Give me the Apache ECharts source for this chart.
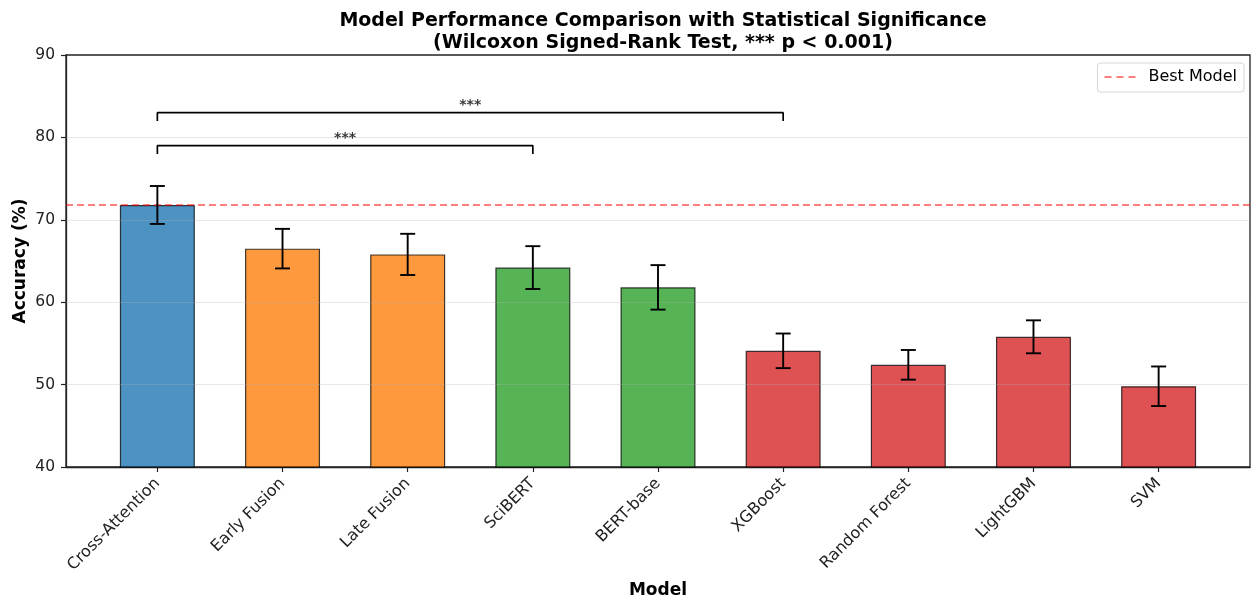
<!DOCTYPE html>
<html>
<head>
<meta charset="utf-8">
<title>Model Performance Comparison</title>
<script src="https://cdn.jsdelivr.net/npm/echarts@6/dist/echarts.min.js"></script>
<style>
  html, body { margin: 0; padding: 0; background: #fff; }
  #chart { width: 1252px; height: 599px; }
</style>
</head>
<body>
<div id="chart"></div>
<script>
// Models, in plotting order
const categories = ['Cross-Attention', 'Early Fusion', 'Late Fusion', 'SciBERT', 'BERT-base',
                    'XGBoost', 'Random Forest', 'LightGBM', 'SVM'];
// Mean accuracy (%) and standard deviation per model
const accuracy = [71.8, 66.5, 65.8, 64.2, 61.8, 54.1, 52.4, 55.8, 49.8];
const stdDev   = [2.3, 2.4, 2.5, 2.6, 2.7, 2.1, 1.8, 2.0, 2.4];
// Model family per bar: 0 = proposed, 1 = fusion, 2 = transformer, 3 = classical ML
const family   = [0, 1, 1, 2, 2, 3, 3, 3, 3];
const familyColors = ['rgba(31,119,180,0.8)', 'rgba(255,127,14,0.8)',
                      'rgba(44,160,44,0.8)', 'rgba(214,39,40,0.8)'];
// Significance brackets: [from index, to index, base height, label]
const brackets = [[0, 3, 78, '***'], [0, 5, 82, '***']];
const bracketRise = 1;
// Y axis ticks
const yTicks = [40, 50, 60, 70, 80, 90];

const bestValue = Math.max(...accuracy);
const xMin = -0.73, xMax = categories.length - 1 + 0.73;
const idx = categories.map((_, i) => i);
const FONT = 'DejaVu Sans';

const series = [];

// Bars
series.push({
  type: 'bar',
  barWidth: 75,
  z: 2,
  data: accuracy.map((v, i) => ({
    value: [i, v],
    itemStyle: { color: familyColors[family[i]] }
  })),
  itemStyle: { borderColor: 'rgba(0,0,0,0.75)', borderWidth: 1.2 },
  silent: true
});

// Horizontal grid lines drawn over the bars
series.push({
  type: 'line',
  data: [],
  z: 3,
  silent: true,
  markLine: {
    silent: true,
    symbol: 'none',
    label: { show: false },
    lineStyle: { color: 'rgba(176,176,176,0.3)', type: 'solid', width: 1 },
    data: yTicks.slice(1, -1).map(t => ({ yAxis: t }))
  }
});

// Error bars
series.push({
  type: 'custom',
  z: 5,
  silent: true,
  data: accuracy.map((v, i) => [i, v, stdDev[i]]),
  renderItem: function (params, api) {
    const x = api.value(0), y = api.value(1), e = api.value(2);
    const top = api.coord([x, y + e]);
    const bot = api.coord([x, y - e]);
    const cap = 7.5;
    const style = { stroke: '#000', lineWidth: 1.9 };
    return {
      type: 'group',
      children: [
        { type: 'line', shape: { x1: top[0], y1: top[1], x2: bot[0], y2: bot[1] }, style },
        { type: 'line', shape: { x1: top[0] - cap, y1: top[1], x2: top[0] + cap, y2: top[1] }, style },
        { type: 'line', shape: { x1: bot[0] - cap, y1: bot[1], x2: bot[0] + cap, y2: bot[1] }, style }
      ]
    };
  }
});

// Reference line at the best model's accuracy
series.push({
  type: 'line',
  name: 'Best Model',
  z: 4,
  silent: true,
  symbol: 'none',
  data: [[xMin, bestValue], [xMax, bestValue]],
  lineStyle: { color: 'rgba(255,0,0,0.5)', width: 2, type: [7, 4] },
  itemStyle: { color: 'rgba(255,0,0,0.5)' }
});

// Significance brackets and their stars
brackets.forEach(b => {
  const [a, c, h, txt] = b;
  series.push({
    type: 'line',
    z: 6,
    silent: true,
    symbol: 'none',
    data: [[a, h], [a, h + bracketRise], [c, h + bracketRise], [c, h]],
    lineStyle: { color: '#000', width: 1.7 }
  });
  series.push({
    type: 'scatter',
    z: 6,
    silent: true,
    symbolSize: 0,
    data: [[(a + c) / 2, h + bracketRise]],
    label: {
      show: true,
      position: 'top',
      distance: 0,
      formatter: txt,
      color: '#000',
      fontFamily: FONT,
      fontWeight: 'bold',
      fontSize: 14
    }
  });
});

const chart = echarts.init(document.getElementById('chart'), null, { renderer: 'canvas' });
chart.setOption({
  animation: false,
  backgroundColor: '#fff',
  title: {
    text: 'Model Performance Comparison with Statistical Significance\n(Wilcoxon Signed-Rank Test, *** p < 0.001)',
    left: 658,
    textAlign: 'center',
    top: 5,
    textStyle: {
      fontFamily: FONT,
      fontWeight: 'bold',
      fontSize: 19,
      lineHeight: 22,
      color: '#000'
    }
  },
  legend: {
    data: [{
      name: 'Best Model',
      icon: 'path://M0,0H7V2H0Z M12,0H19V2H12Z M24,0H31V2H24Z'
    }],
    right: 8,
    top: 63,
    orient: 'vertical',
    padding: [6, 7, 7, 7],
    itemWidth: 31,
    itemHeight: 2,
    borderColor: '#d6d6d6',
    borderWidth: 1,
    borderRadius: 3,
    backgroundColor: 'rgba(255,255,255,0.8)',
    itemStyle: { color: 'rgba(255,0,0,0.5)', borderWidth: 0 },
    textStyle: { fontFamily: FONT, fontSize: 16, color: '#000', padding: [0, 0, 0, 8] }
  },
  grid: {
    left: 66,
    right: 2,
    top: 55,
    bottom: 132,
    show: true,
    borderColor: '#222',
    borderWidth: 1.3,
    containLabel: false,
    outerBoundsMode: 'none'
  },
  xAxis: {
    type: 'value',
    min: xMin,
    max: xMax,
    name: 'Model',
    nameLocation: 'middle',
    nameGap: 115,
    nameMoveOverlap: false,
    nameTextStyle: { fontFamily: FONT, fontWeight: 'bold', fontSize: 17, color: '#000' },
    axisLine: { show: true, onZero: false, lineStyle: { color: '#222', width: 1.3 } },
    axisTick: { show: true, customValues: idx, length: 5, lineStyle: { color: '#222', width: 1.2 } },
    axisLabel: {
      customValues: idx,
      rotate: 45,
      margin: 14,
      formatter: v => categories[Math.round(v)],
      fontFamily: FONT,
      fontSize: 16,
      color: '#222'
    },
    splitLine: { show: false }
  },
  yAxis: {
    type: 'value',
    min: 40,
    max: 90,
    interval: 10,
    name: 'Accuracy (%)',
    nameLocation: 'middle',
    nameGap: 37,
    nameMoveOverlap: false,
    nameTextStyle: { fontFamily: FONT, fontWeight: 'bold', fontSize: 17, color: '#000' },
    axisLine: { show: true, onZero: false, lineStyle: { color: '#222', width: 1.3 } },
    axisTick: { show: true, length: 5, lineStyle: { color: '#222', width: 1.2 } },
    axisLabel: {
      margin: 11,
      formatter: v => yTicks.includes(v) ? String(v) : '',
      fontFamily: FONT,
      fontSize: 15.5,
      color: '#222'
    },
    splitLine: { show: false }
  },
  series: series
});
</script>
</body>
</html>
